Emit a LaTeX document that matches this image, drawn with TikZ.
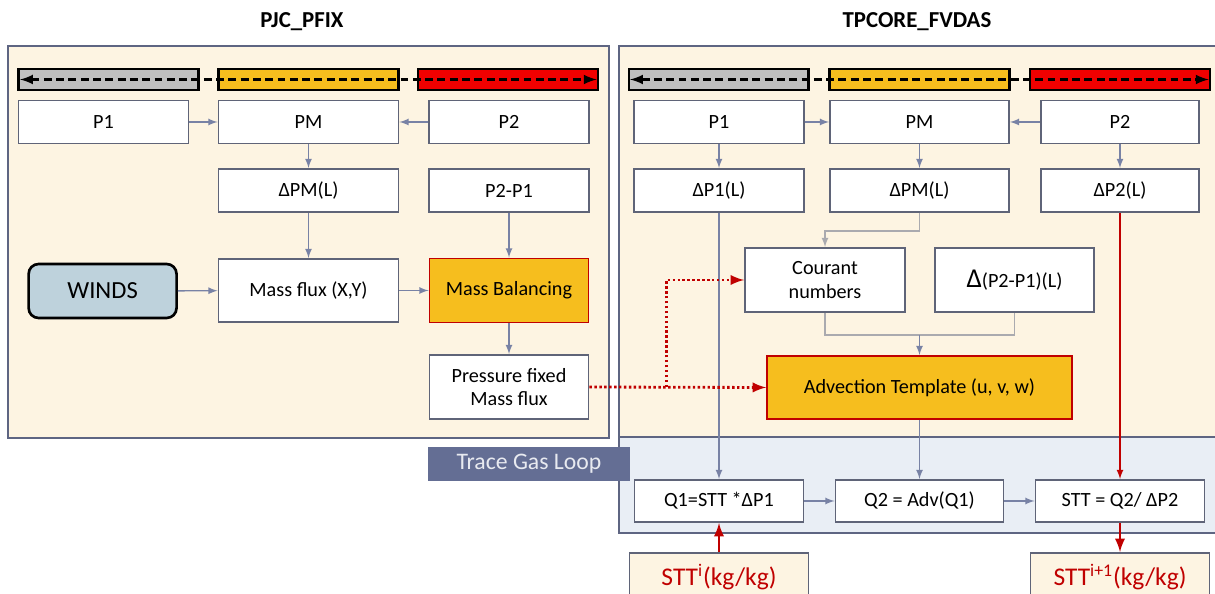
\documentclass[tikz,border=0pt]{standalone}
\usepackage{fontspec}
\setmainfont{Carlito}
\usepackage{xcolor}
\usetikzlibrary{arrows,positioning}

\definecolor{paper}{RGB}{253,244,226}
\definecolor{loopbg}{RGB}{233,238,245}
\definecolor{frame}{RGB}{94,101,130}
\definecolor{boxline}{RGB}{95,100,120}
\definecolor{flow}{RGB}{120,130,165}
\definecolor{faint}{RGB}{170,170,175}
\definecolor{amber}{RGB}{246,190,30}
\definecolor{brick}{RGB}{192,0,0}
\definecolor{barred}{RGB}{240,0,0}
\definecolor{bargrey}{RGB}{191,191,191}
\definecolor{windsbg}{RGB}{190,210,220}
\definecolor{loopbox}{RGB}{100,110,148}
\definecolor{looptext}{RGB}{232,234,240}

\begin{document}
\begin{tikzpicture}[x=0.02cm, y=-0.02cm, node distance=1.37cm,
  box/.style={draw=boxline, fill=white, line width=1.1pt, minimum height=0.86cm,
              inner sep=2pt, align=center, font=\fontsize{11.5}{13.5}\selectfont},
  hot/.style={box, fill=amber, draw=brick},
  bar/.style={draw=black, line width=1.5pt, minimum width=3.6cm, minimum height=0.42cm, inner sep=0pt},
  outbox/.style={box, fill=paper, text=brick, minimum height=0.96cm, font=\fontsize{14.5}{16}\selectfont},
  link/.style={->, >=latex, draw=flow, line width=0.8pt},
  redlink/.style={->, >=latex, draw=brick, line width=0.8pt},
  boldlink/.style={->, >=latex, draw=brick, line width=1.6pt},
  dotlink/.style={->, >=latex, draw=brick, line width=1.6pt, dash pattern=on 1.4pt off 1.4pt},
  dashline/.style={<->, >=latex, draw=black, line width=1.5pt, dash pattern=on 4.5pt off 2.5pt, shorten <=1.5pt, shorten >=1.5pt},
  title/.style={font=\fontsize{13}{15}\selectfont\bfseries}]

  \useasboundingbox (0,0) rectangle (1215,594);

  % panels
  \draw[frame, fill=paper, line width=1.3pt] (8,46) rectangle (609,438);
  \fill[paper] (619,46) rectangle (1230,437);
  \fill[loopbg] (619,437) rectangle (1230,533);
  \draw[frame, line width=1.3pt] (1230,46) -- (619,46) -- (619,533) -- (1230,533)
                                 (619,437) -- (1230,437);

  \node[title] (pfix)  at (302,22) {PJC\_PFIX};
  \node[title] (fvdas) at (917,22) {TPCORE\_FVDAS};

  % PJC_PFIX
  \node[bar, fill=bargrey] (gbarL) at (108.7,79.5) {};
  \node[bar, fill=amber]   (ybarL) at (308.5,79.5) {};
  \node[bar, fill=barred]  (rbarL) at (508,79.5)   {};
  \draw[dashline] (gbarL.west) -- (rbarL.east);

  \node[box, minimum width=3.4cm] (P1L) at (103.5,122) {P1};
  \node[box, minimum width=3.6cm] (PML) at (308.5,122) {PM};
  \node[box, minimum width=3.2cm] (P2L) at (509,122)   {P2};
  \node[box, minimum width=3.6cm] (dPML) [below of=PML] {ΔPM(L)};
  \node[box, minimum width=3.2cm] (P21L) [below of=P2L] {P2-P1};

  \node[box, draw=black, fill=windsbg, line width=1.5pt, rounded corners=0.2cm,
        minimum width=2.96cm, minimum height=1.08cm, font=\fontsize{14}{16}\selectfont]
        (winds) at (102.6,291) {WINDS};
  \node[box, minimum width=3.6cm, minimum height=1.26cm] (flux) at (308.5,290.5) {Mass flux (X,Y)};
  \node[hot, minimum width=3.18cm, minimum height=1.28cm] (bal) at (509,290.5) {Mass Balancing};
  \node[box, minimum width=3.18cm, minimum height=1.28cm] (fixed) at (509,387) {Pressure fixed\\Mass flux};

  \path (P1L)   edge[link] (PML)
        (P2L)   edge[link] (PML)
        (PML)   edge[link] (dPML)
        (dPML)  edge[link] (flux)
        (P21L)  edge[link] (bal)
        (winds) edge[link] (flux)
        (flux)  edge[link] (bal)
        (bal)   edge[link] (fixed);

  % TPCORE_FVDAS
  \node[bar, fill=bargrey] (gbarR) at (718.8,79.5) {};
  \node[bar, fill=amber]   (ybarR) at (919.5,79.5) {};
  \node[bar, fill=barred]  (rbarR) at (1120,79.5)  {};
  \draw[dashline] (gbarR.west) -- (rbarR.east);

  \node[box, minimum width=3.4cm]  (P1R) at (719,122)   {P1};
  \node[box, minimum width=3.58cm] (PMR) at (919.5,122) {PM};
  \node[box, minimum width=3.16cm] (P2R) at (1120,122)  {P2};
  \node[box, minimum width=3.4cm]  (dP1R) [below of=P1R] {ΔP1(L)};
  \node[box, minimum width=3.58cm] (dPMR) [below of=PMR] {ΔPM(L)};
  \node[box, minimum width=3.16cm] (dP2R) [below of=P2R] {ΔP2(L)};

  \node[box, minimum width=3.2cm, minimum height=1.28cm] (courant) at (825,280) {Courant\\numbers};
  \node[box, minimum width=3.18cm, minimum height=1.28cm] (delta) at (1014.5,280)
        {{\fontsize{15.5}{16}\selectfont Δ}(P2-P1)(L)};
  \node[hot, minimum width=6.1cm, minimum height=1.26cm] (advect) at (919.5,387.5) {Advection Template (u, v, w)};

  \node[box, fill=loopbox, draw=loopbox, text=looptext, minimum width=4cm, minimum height=0.64cm,
        font=\fontsize{13.5}{15}\selectfont] (loop) at (529,464) {Trace Gas Loop};

  \node[box, minimum width=3.38cm, minimum height=0.84cm] (Q1)  at (719,501)    {Q1=STT *ΔP1};
  \node[box, minimum width=3.36cm, minimum height=0.84cm] (Q2)  at (919.5,501)  {Q2 = Adv(Q1)};
  \node[box, minimum width=3.38cm, minimum height=0.84cm] (STT) at (1120,501)   {STT = Q2/ ΔP2};

  \node[outbox, minimum width=3.58cm] (STTi) at (719,577)  {STT\textsuperscript{i}(kg/kg)};
  \node[outbox, minimum width=3.58cm] (STTn) at (1120,577) {STT\textsuperscript{i+1}(kg/kg)};

  \coordinate (join)  at (919.5,335);
  \coordinate (split) at (666.5,387);

  \path (P1R)  edge[link] (PMR)
        (P2R)  edge[link] (PMR)
        (P1R)  edge[link] (dP1R)
        (PMR)  edge[link] (dPMR)
        (P2R)  edge[link] (dP2R)
        (dP1R) edge[link] (Q1)
        (advect) edge[link] (Q2)
        (dP2R) edge[redlink] (STT)
        (Q1)   edge[link] (Q2)
        (Q2)   edge[link] (STT)
        (STTi) edge[boldlink] (Q1)
        (STT)  edge[boldlink] (STTn);

  \draw[link, draw=faint] (dPMR.south) -- ++(0,18) -| (courant.north);
  \draw[draw=faint, line width=0.8pt] (courant.south) |- (join) -| (delta.south);
  \draw[link] (join) -- (advect.north);

  \draw[dotlink] (fixed.east) -- (advect.west);
  \draw[dotlink] (split) |- (courant.west);
\end{tikzpicture}
\end{document}
